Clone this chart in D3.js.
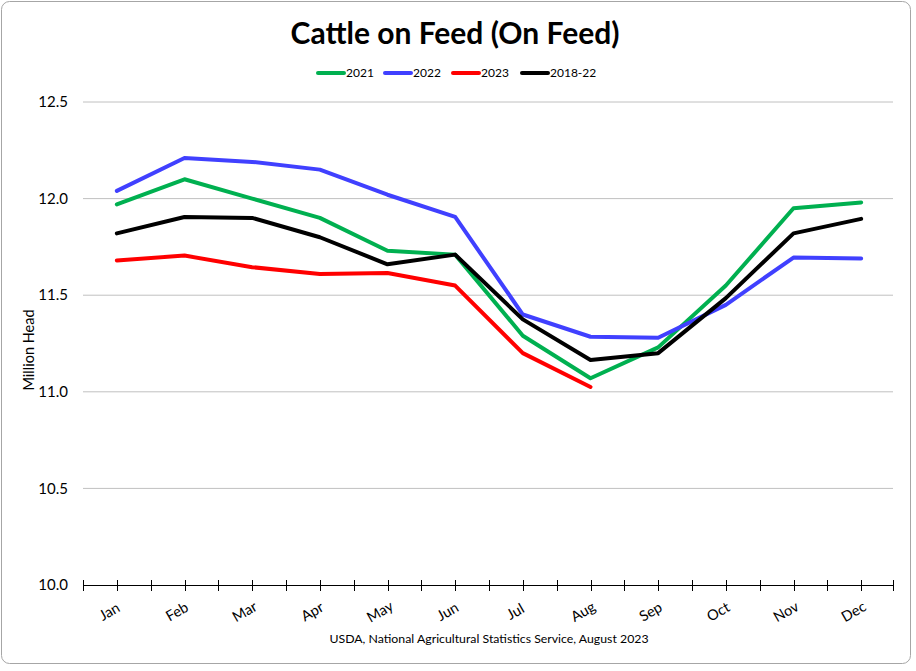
<!DOCTYPE html>
<html><head><meta charset="utf-8">
<script src="https://cdn.jsdelivr.net/npm/d3@7"></script>
<style>body{margin:0;background:#fff;} svg{display:block;}</style>
</head><body>
<svg id="c" width="916" height="671"></svg>
<script>
const months = ["Jan","Feb","Mar","Apr","May","Jun","Jul","Aug","Sep","Oct","Nov","Dec"];
const yTicks = [10.0, 10.5, 11.0, 11.5, 12.0, 12.5];
const s2021 = [11.97, 12.10, 12.00, 11.90, 11.73, 11.71, 11.29, 11.07, 11.23, 11.55, 11.95, 11.98];
const s2022 = [12.04, 12.21, 12.19, 12.15, 12.02, 11.905, 11.40, 11.285, 11.28, 11.45, 11.695, 11.69];
const s2023 = [11.68, 11.705, 11.645, 11.61, 11.615, 11.55, 11.20, 11.025];
const s1822 = [11.82, 11.905, 11.90, 11.80, 11.66, 11.71, 11.375, 11.165, 11.20, 11.485, 11.82, 11.895];
const seriesNames = ["2021","2022","2023","2018-22"];
const seriesColors = ["#00b050","#4040ff","#ff0000","#000000"];
const seriesData = [s2021, s2022, s2023, s1822];

const svg = d3.select("#c");
const font = "Lato, 'Open Sans', sans-serif";

svg.append("rect").attr("x",1.5).attr("y",1.5).attr("width",909).attr("height",662)
  .attr("rx",8).attr("fill","#fff").attr("stroke","#a6a6a6").attr("stroke-width",1);

const x = d3.scaleBand().domain(months).range([83, 895]);
const y = d3.scaleLinear().domain([10, 12.5]).range([585, 102]);

// gridlines
svg.append("g").selectAll("line").data(yTicks.filter(d=>d>10)).join("line")
  .attr("x1",83).attr("x2",893).attr("y1",d=>y(d)).attr("y2",d=>y(d))
  .attr("stroke","#c0c0c0").attr("stroke-width",1);

// y labels
svg.append("g").selectAll("text").data(yTicks).join("text")
  .attr("x",68).attr("y",d=>y(d)).attr("dy","0.35em").attr("text-anchor","end")
  .attr("font-family",font).attr("font-size",15).attr("fill","#000")
  .text(d=>d.toFixed(1));

svg.append("text").attr("transform","translate(34,350) rotate(-90)")
  .attr("text-anchor","middle").attr("font-family",font).attr("font-size",14.5).text("Million Head");

// x axis
const ax = svg.append("g");
ax.append("line").attr("x1",83).attr("x2",893).attr("y1",585.5).attr("y2",585.5).attr("stroke","#000").attr("stroke-width",1);
const tickPos = [];
months.forEach(m=>{ tickPos.push(x(m)); tickPos.push(x(m)+x.bandwidth()/2); });
tickPos.push(x.range()[1]-2);
ax.selectAll("line.t").data(tickPos).join("line").attr("class","t")
  .attr("x1",d=>Math.round(d)+0.5).attr("x2",d=>Math.round(d)+0.5).attr("y1",580).attr("y2",591)
  .attr("stroke","#000").attr("stroke-width",1);
ax.selectAll("text").data(months).join("text")
  .attr("transform",d=>`translate(${x(d)+x.bandwidth()/2-5},${616}) rotate(-30)`)
  .attr("text-anchor","middle").attr("font-family",font).attr("font-size",14.5).attr("fill","#000")
  .text(d=>d);

// lines
const line = d3.line().x((d,i)=>x(months[i])+x.bandwidth()/2).y(d=>y(d));
seriesData.forEach((s,k)=>{
  svg.append("path").datum(s).attr("d",line).attr("fill","none")
    .attr("stroke",seriesColors[k]).attr("stroke-width",4).attr("stroke-linejoin","round").attr("stroke-linecap","round");
});

// title
svg.append("text").attr("x",455).attr("y",44).attr("text-anchor","middle")
  .attr("font-family",font).attr("font-weight","bold").attr("font-size",30).text("Cattle on Feed (On Feed)");

// legend
const legX = [318, 385, 453, 522];
seriesNames.forEach((n,k)=>{
  svg.append("line").attr("x1",legX[k]).attr("x2",legX[k]+26).attr("y1",73).attr("y2",73)
    .attr("stroke",seriesColors[k]).attr("stroke-width",4).attr("stroke-linecap","round");
  svg.append("text").attr("x",legX[k]+28).attr("y",73).attr("dy","0.35em")
    .attr("font-family",font).attr("font-size",12).text(n);
});

// footer
svg.append("text").attr("x",489).attr("y",643).attr("text-anchor","middle")
  .attr("font-family",font).attr("font-size",12.3).text("USDA, National Agricultural Statistics Service, August 2023");
</script>
</body></html>
